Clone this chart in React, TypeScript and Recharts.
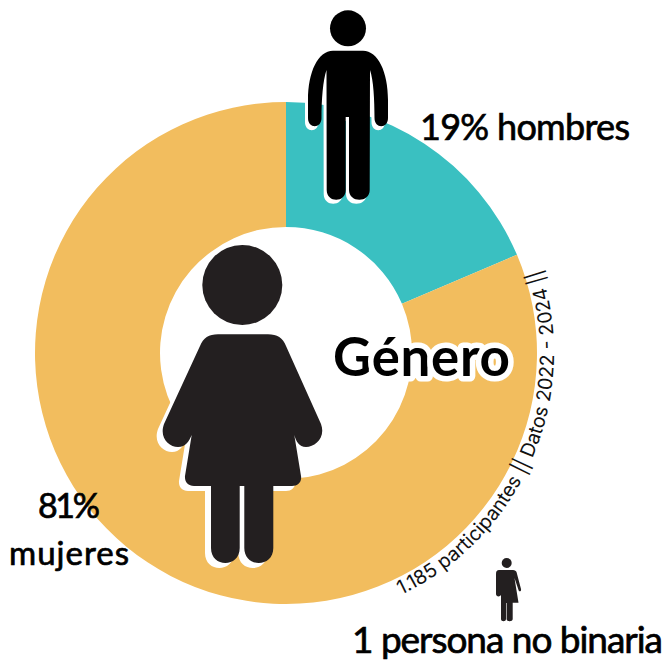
import React from 'react';
import { PieChart, Pie, Cell } from 'recharts';

const categories = ['hombres', 'mujeres'];
const shares = [18.6, 81.4];
const sliceColors = ['#3AC0C1', '#F2BD5E'];

const CX = 286;
const CY = 353;
const LABEL_FONT = 'Lato, sans-serif';

const chartData = categories.map((name, i) => ({ name, value: shares[i] }));

// Figures
const MAN =
  'M333 50.7 L363 50.7 C378 50.7 388 72 388 100 L388 118 C388 129 374.5 129 374.5 118 C374.5 100 373.5 80 370 70 L369.7 190 C369.7 203 349 203 349 190 L349 117 L345.7 117 L345.7 190 C345.7 203 326.7 203 326.7 190 L326.5 70 C323 80 321.5 100 321.5 118 C321.5 129 308 129 308 118 L308 100 C308 72 318 50.7 333 50.7 Z';
const WOMAN =
  'M218 334.3 L268 334.3 C277 334.3 283 338 286 346 L321 424 C326 438 315 447 306 447 C299 447 296 441 294.3 435 L301 476 C302 482 298 486 292 486 L273.3 486 L273.3 548 C273.3 568 244.3 568 244.3 548 L244.3 486 L239.7 486 L239.7 548 C239.7 568 211 568 211 548 L211 486 L194 486 C188 486 184.5 482 185 476 L191.7 435 C189 441 186 447 178 447 C169 447 159 438 164 424 L200 346 C203 338 209 334.3 218 334.3 Z';
const NON_BINARY =
  'M499 570 L513 570 C515 570 516 571 516.5 572 L521 589 C521.5 591.5 519 592 518.5 590 L514.5 578 L518.5 602.7 L512.7 602.7 L512.7 619 C512.7 622 506.6 622 506.6 619 L506.6 603 L506 603 L506 619 C506 622 501 622 501 619 L501 595 C500 597 496 597 496 594 L496 574 C496 571 497 570 499 570 Z';

// Baseline of the curved note, runs counter-clockwise around the ring
const NOTE_ARC = `M401 595 A268 268 0 0 0 529 240`;

// Lato has no medium cut here, so regular gets a thin outline
const labelStyle = {
  fontFamily: LABEL_FONT,
  fontWeight: 400,
  fill: '#000',
  stroke: '#000',
  strokeWidth: 0.7,
};

const App: React.FC = () => {
  return (
    <div style={{ position: 'absolute', left: 0, top: 0, width: 668, height: 663, background: '#fff' }}>
      <PieChart width={668} height={663} margin={{ top: 0, right: 0, bottom: 0, left: 0 }}>
        <Pie
          data={chartData}
          dataKey="value"
          cx={CX}
          cy={CY}
          innerRadius={126}
          outerRadius={251}
          startAngle={90}
          endAngle={-270}
          stroke="none"
          isAnimationActive={false}
        >
          {chartData.map((d, i) => (
            <Cell key={d.name} fill={sliceColors[i]} />
          ))}
        </Pie>
      </PieChart>

      {/* Figures and labels sit on top of the ring */}
      <svg width={668} height={663} style={{ position: 'absolute', left: 0, top: 0 }}>
        <defs>
          <path id="note-arc" d={NOTE_ARC} />
        </defs>

        <path d={MAN} fill="#fff" transform="translate(-3 4)" />
        <path d={MAN} fill="#000" />
        <circle cx={348} cy={28.3} r={18} fill="#000" />

        <path d={WOMAN} fill="#fff" transform="translate(-6 5)" />
        <path d={WOMAN} fill="#231F20" />
        <circle cx={242.3} cy={285} r={40} fill="#231F20" />

        <path d={NON_BINARY} fill="#231F20" />
        <circle cx={506.7} cy={563} r={5} fill="#231F20" />

        <text
          x={333}
          y={376}
          fontFamily={LABEL_FONT}
          fontSize={53}
          fontWeight={700}
          fill="#000"
          stroke="#fff"
          strokeWidth={11}
          strokeLinejoin="round"
          paintOrder="stroke"
          textLength={177}
        >
          Género
        </text>
        <text x={420} y={140} fontSize={36} style={labelStyle} textLength={210}>
          19% hombres
        </text>
        <text x={38} y={518} fontSize={34} style={labelStyle} textLength={62}>
          81%
        </text>
        <text x={9} y={565} fontSize={33} style={labelStyle} textLength={120}>
          mujeres
        </text>
        <text x={352} y={653} fontSize={37} style={labelStyle} textLength={311}>
          1 persona no binaria
        </text>
        <text fontFamily="Inter, sans-serif" fontSize={19.5} fontWeight={400} fill="#111">
          <textPath href="#note-arc">1.185 participantes || Datos 2022 - 2024 ||</textPath>
        </text>
      </svg>
    </div>
  );
};

export default App;
